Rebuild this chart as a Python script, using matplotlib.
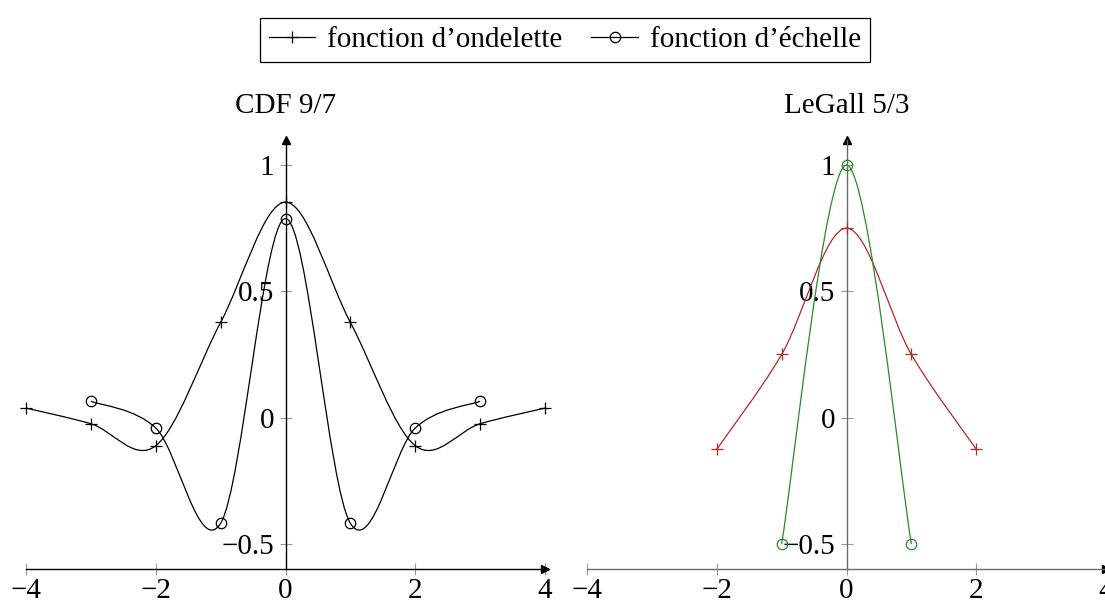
import numpy as np
import matplotlib
matplotlib.use("Agg")
import matplotlib.pyplot as plt
from matplotlib.path import Path
from matplotlib.patches import PathPatch
from matplotlib.lines import Line2D

plt.rcParams['font.family'] = ['Liberation Serif', 'DejaVu Serif']
plt.rcParams['font.size'] = 21

# CDF 9/7
cdf_x_wave = [-4, -3, -2, -1, 0, 1, 2, 3, 4]
cdf_wave = [0.038, -0.024, -0.111, 0.377, 0.853, 0.377, -0.111, -0.024, 0.038]
cdf_x_scale = [-3, -2, -1, 0, 1, 2, 3]
cdf_scale = [0.065, -0.041, -0.418, 0.788, -0.418, -0.041, 0.065]

# LeGall 5/3
lg_x_wave = [-2, -1, 0, 1, 2]
lg_wave = [-0.125, 0.25, 0.75, 0.25, -0.125]
lg_x_scale = [-1, 0, 1]
lg_scale = [-0.5, 1.0, -0.5]

x_ticks = [-4, -2, 0, 2, 4]
x_labels = ['\u22124', '\u22122', '0', '2', '4']
y_ticks = [-0.5, 0, 0.5, 1]
y_labels = ['\u22120.5', '0', '0.5', '1']
titles = ['CDF 9/7', 'LeGall 5/3']


def smooth_path(xs, ys, f=1/6):
    # bezier through the points, like tikz "smooth"
    pts = np.column_stack([xs, ys]).astype(float)
    n = len(pts)
    verts = [pts[0]]
    codes = [Path.MOVETO]
    for i in range(n - 1):
        p0, p1 = pts[i], pts[i + 1]
        prev = pts[i - 1] if i > 0 else p0
        nxt = pts[i + 2] if i + 2 < n else p1
        verts += [p0 + f * (p1 - prev), p1 - f * (nxt - p0), p1]
        codes += [Path.CURVE4] * 3
    return Path(verts, codes)


def draw_series(ax, xs, ys, marker, color):
    ax.add_patch(PathPatch(smooth_path(xs, ys), fill=False, edgecolor=color,
                           lw=0.9, clip_on=False, zorder=3))
    ax.plot(xs, ys, ls='none', marker=marker, ms=8 if marker == '+' else 7.5,
            mew=0.9, mfc='none', mec=color, clip_on=False, zorder=4)


fig = plt.figure(figsize=(11.05, 6.03), dpi=100)
ax1 = fig.add_axes([26 / 1105, 1 - 569.3 / 603, 519 / 1105, 429.6 / 603])
ax2 = fig.add_axes([587 / 1105, 1 - 569.3 / 603, 519 / 1105, 429.6 / 603])

draw_series(ax1, cdf_x_wave, cdf_wave, '+', 'black')
draw_series(ax1, cdf_x_scale, cdf_scale, 'o', 'black')
draw_series(ax2, lg_x_wave, lg_wave, '+', '#b02a2a')
draw_series(ax2, lg_x_scale, lg_scale, 'o', '#2a8a2a')

for ax, title, axcol in [(ax1, titles[0], 'black'), (ax2, titles[1], '#6b6b6b')]:
    ax.set_xlim(-4, 4)
    ax.set_ylim(-0.6, 1.1)
    ax.patch.set_visible(False)
    ax.spines['top'].set_visible(False)
    ax.spines['right'].set_visible(False)
    ax.spines['left'].set_position(('data', 0))
    for s in ['left', 'bottom']:
        ax.spines[s].set_color(axcol)
        ax.spines[s].set_linewidth(1.0)
        ax.spines[s].set_zorder(2)
    ax.set_xticks(x_ticks)
    ax.set_xticklabels(x_labels)
    ax.set_yticks(y_ticks)
    ax.set_yticklabels(y_labels)
    ax.tick_params(direction='inout', length=8, width=0.8, color='#9a9a9a')
    ax.tick_params(axis='x', pad=2)
    ax.tick_params(axis='y', pad=4)
    for lab in ax.get_yticklabels():
        lab.set_zorder(1)
    # arrow heads
    ax.plot(1, 0, marker='>', ms=6, color='black', transform=ax.transAxes, clip_on=False)
    ax.plot(0, 1, marker='^', ms=6, color='black', transform=ax.get_xaxis_transform(), clip_on=False)
    ax.set_title(title, pad=19, fontsize=21)

handles = [Line2D([], [], color='black', lw=0.9, marker='+', ms=8, mew=0.9),
           Line2D([], [], color='black', lw=0.9, marker='o', ms=7.5, mew=0.9, mfc='none')]
leg = fig.legend(handles, ['fonction d\u2019ondelette', 'fonction d\u2019\u00e9chelle'],
                 loc='upper center', bbox_to_anchor=(0.511, 1 - 18 / 603), ncol=2,
                 fancybox=False, edgecolor='black', framealpha=1, fontsize=21,
                 handlelength=1.6, handletextpad=0.4, columnspacing=1.0,
                 borderpad=0.3, borderaxespad=0)
leg.get_frame().set_linewidth(0.9)

fig.savefig('out.png', dpi=100)
